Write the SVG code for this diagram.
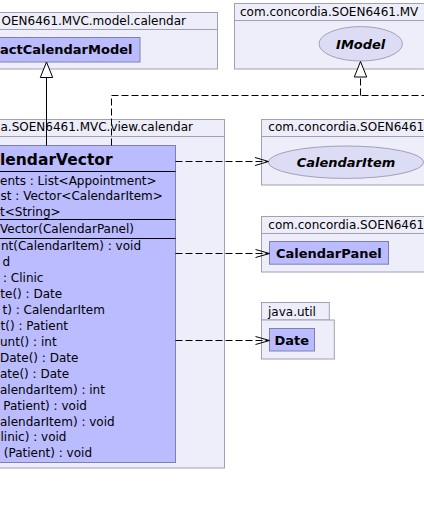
<svg xmlns="http://www.w3.org/2000/svg" width="424" height="508" viewBox="0 0 424 508">
<style>
text{font-family:"DejaVu Sans","Liberation Sans",sans-serif;fill:#000}
.pkg{fill:#EEEEFA;stroke:#A0A0B4;stroke-width:1}
.pl{font-size:12px}
.cls{fill:#BBBBFF;stroke:#7F7FB0;stroke-width:1}
.div{stroke:#000;stroke-width:1}
.cn{font-size:13px;font-weight:bold}
.ct{font-size:12px}
.ell{fill:#DCDCF4;stroke:#A0A0B8;stroke-width:1}
.it{font-size:13px;font-weight:bold;font-style:italic}
.dash{fill:none;stroke:#000;stroke-width:1;stroke-dasharray:7,3}
.solid{fill:none;stroke:#000;stroke-width:1}
.tri{fill:#FFFFFF;stroke:#000;stroke-width:1}
.open{fill:none;stroke:#000;stroke-width:1}
</style>
<rect width="424" height="508" fill="#FFFFFF"/>
<g id="pkg-model-calendar">
<rect class="pkg" x="-10" y="12.5" width="227.5" height="56.5"/>
<line class="pkg" x1="-10" y1="29.5" x2="217.5" y2="29.5"/>
<text class="pl" x="1.5" y="25">OEN6461.MVC.model.calendar</text>
</g>
<g id="pkg-model">
<rect class="pkg" x="234.5" y="3.5" width="200" height="65.5"/>
<line class="pkg" x1="234.5" y1="20.5" x2="434" y2="20.5"/>
<text class="pl" x="240" y="15.5">com.concordia.SOEN6461.MV</text>
</g>
<g id="pkg-view-calendar">
<rect class="pkg" x="-10" y="119.5" width="234.5" height="348.5"/>
<line class="pkg" x1="-10" y1="136.5" x2="224.5" y2="136.5"/>
<text class="pl" x="0.5" y="131">a.SOEN6461.MVC.view.calendar</text>
</g>
<g id="pkg-calendaritem">
<rect class="pkg" x="261.5" y="119.5" width="172" height="65.5"/>
<line class="pkg" x1="261.5" y1="136.5" x2="434" y2="136.5"/>
<text class="pl" x="268.3" y="131">com.concordia.SOEN6461</text>
</g>
<g id="pkg-calendarpanel">
<rect class="pkg" x="261.5" y="216.5" width="172" height="55.5"/>
<line class="pkg" x1="261.5" y1="233.5" x2="434" y2="233.5"/>
<text class="pl" x="268.3" y="228.5">com.concordia.SOEN6461</text>
</g>
<g id="pkg-java-util">
<rect class="pkg" x="261.5" y="302.5" width="67.8" height="17.5"/>
<rect class="pkg" x="261.5" y="320" width="72.8" height="39"/>
<text class="pl" x="268" y="315.5">java.util</text>
</g>
<g id="AbstractCalendarModel">
<rect class="cls" x="-10" y="37.5" width="150" height="24.5"/>
<text class="cn" x="0" y="54.3">actCalendarModel</text>
</g>
<g id="IModel">
<ellipse class="ell" cx="360.7" cy="43.8" rx="41.7" ry="17.2"/>
<text class="it" x="360.7" y="48.5" text-anchor="middle">IModel</text>
</g>
<g id="CalendarItem">
<ellipse class="ell" cx="346" cy="162.2" rx="77.7" ry="16.2"/>
<text class="it" x="346" y="166.8" text-anchor="middle">CalendarItem</text>
</g>
<g id="CalendarPanel">
<rect class="cls" x="269.5" y="241.5" width="119" height="22.7"/>
<text class="cn" x="328.8" y="257.8" text-anchor="middle">CalendarPanel</text>
</g>
<g id="Date">
<rect class="cls" x="269.5" y="328.5" width="45" height="22.5"/>
<text class="cn" x="291.8" y="344.5" text-anchor="middle">Date</text>
</g>
<g id="CalendarVector">
<rect class="cls" x="-95" y="145.5" width="270.5" height="317"/>
<line class="div" x1="-95" y1="171.5" x2="175.5" y2="171.5"/>
<line class="div" x1="-95" y1="219.5" x2="175.5" y2="219.5"/>
<line class="div" x1="-95" y1="238.5" x2="175.5" y2="238.5"/>
<text x="0" y="165" style="font-size:15.5px;font-weight:bold">lendarVector</text>
<text class="ct" x="0" y="184.8">ents : List&lt;Appointment&gt;</text>
<text class="ct" x="0.5" y="200.4">st : Vector&lt;CalendarItem&gt;</text>
<text class="ct" x="0" y="216">t&lt;String&gt;</text>
<text class="ct" x="0" y="233.4">Vector(CalendarPanel)</text>
<text class="ct" x="1" y="249.8">nt(CalendarItem) : void</text>
<text class="ct" x="2.6" y="265.8">d</text>
<text class="ct" x="3" y="281.7">: Clinic</text>
<text class="ct" x="0.3" y="297.7">te() : Date</text>
<text class="ct" x="2.5" y="313.7">t) : CalendarItem</text>
<text class="ct" x="0.5" y="329.6">t() : Patient</text>
<text class="ct" x="0" y="345.6">unt() : int</text>
<text class="ct" x="0" y="361.6">Date() : Date</text>
<text class="ct" x="0" y="377.6">ate() : Date</text>
<text class="ct" x="0" y="393.5">alendarItem) : int</text>
<text class="ct" x="3.3" y="409.5">Patient) : void</text>
<text class="ct" x="0" y="425.5">alendarItem) : void</text>
<text class="ct" x="0.5" y="441.4">linic) : void</text>
<text class="ct" x="3.8" y="457.4">(Patient) : void</text>
</g>
<g id="connectors">
<line class="solid" x1="46.5" y1="77.5" x2="46.5" y2="145.5"/>
<polygon class="tri" points="46.5,62 40.3,77.5 52.7,77.5"/>
<path class="dash" d="M111.5,145.5 V95.5 H430"/>
<path class="dash" d="M360.5,95.5 V77"/>
<polygon class="tri" points="360.5,61.5 354.3,77 366.7,77"/>
<path class="dash" d="M175.5,161.5 H268"/>
<path class="open" d="M255,157.5 L268.5,161.5 L255,165.5"/>
<path class="dash" d="M175.5,253.5 H269"/>
<path class="open" d="M255.5,249.5 L269.5,253.5 L255.5,257.5"/>
<path class="dash" d="M175.5,340.5 H269"/>
<path class="open" d="M255.5,336.5 L269.5,340.5 L255.5,344.5"/>
</g>
</svg>
